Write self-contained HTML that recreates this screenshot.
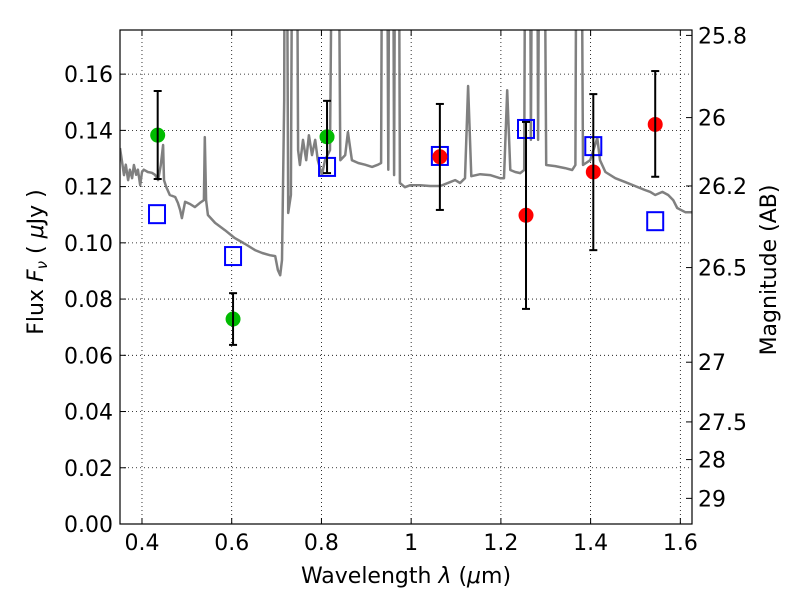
<!DOCTYPE html>
<html><head><meta charset="utf-8"><style>
html,body{margin:0;padding:0;background:#fff}
svg{display:block;font-family:"DejaVu Sans","Liberation Sans",sans-serif}
</style></head><body>
<svg id="chart" width="800" height="600" xmlns="http://www.w3.org/2000/svg"></svg>
<script>
const xTicks=[0.4,0.6,0.8,1.0,1.2,1.4,1.6];
const xTickLabels=["0.4","0.6","0.8","1","1.2","1.4","1.6"];
const yTicks=[0,0.02,0.04,0.06,0.08,0.10,0.12,0.14,0.16];
const yTickLabels=["0.00","0.02","0.04","0.06","0.08","0.10","0.12","0.14","0.16"];
const magTicks=[25.8,26,26.2,26.5,27,27.5,28,29];
const magTickLabels=["25.8","26","26.2","26.5","27","27.5","28","29"];
const specWave=[0.351,0.355,0.360,0.364,0.369,0.373,0.378,0.382,0.387,0.391,0.396,0.400,0.404,0.413,0.422,0.429,0.436,0.442,0.447,0.449,0.454,0.462,0.474,0.480,0.485,0.489,0.496,0.507,0.518,0.529,0.538,0.540,0.543,0.547,0.563,0.585,0.607,0.630,0.652,0.668,0.685,0.697,0.703,0.708,0.712,0.717,0.719,0.721,0.726,0.732,0.737,0.743,0.748,0.752,0.759,0.766,0.772,0.779,0.786,0.792,0.801,0.808,0.819,0.828,0.835,0.842,0.853,0.859,0.868,0.882,0.897,0.913,0.926,0.933,0.937,0.944,0.949,0.953,0.958,0.962,0.966,0.971,0.975,0.986,0.998,1.020,1.042,1.065,1.087,1.098,1.109,1.120,1.127,1.134,1.154,1.176,1.198,1.207,1.214,1.221,1.232,1.243,1.252,1.256,1.263,1.267,1.272,1.279,1.283,1.288,1.294,1.301,1.321,1.343,1.359,1.366,1.370,1.377,1.383,1.399,1.415,1.421,1.433,1.455,1.477,1.499,1.521,1.533,1.544,1.560,1.573,1.584,1.593,1.611,1.627];
const specFlux=[0.1337,0.1294,0.1241,0.1278,0.1223,0.1260,0.1230,0.1277,0.1242,0.1260,0.1205,0.1252,0.1260,0.1252,0.1249,0.1242,0.1223,0.1277,0.1348,0.1223,0.1199,0.1170,0.1163,0.1142,0.1117,0.1088,0.1146,0.1138,0.1127,0.1142,0.1152,0.1376,0.1152,0.1099,0.1071,0.1045,0.1017,0.0996,0.0974,0.0964,0.0956,0.0953,0.0903,0.0885,0.0939,0.1508,0.30,0.30,0.1106,0.1170,0.30,0.30,0.1330,0.1277,0.1366,0.1294,0.1383,0.1312,0.1366,0.1294,0.1241,0.1294,0.1330,0.30,0.30,0.1294,0.1312,0.1394,0.1294,0.1284,0.1278,0.1270,0.1278,0.1284,0.30,0.30,0.1260,0.30,0.30,0.1241,0.30,0.30,0.1213,0.1198,0.1205,0.1205,0.1202,0.1202,0.1216,0.1223,0.1213,0.1230,0.1558,0.1237,0.1244,0.1241,0.1230,0.1230,0.1543,0.1259,0.1252,0.1248,0.1259,0.30,0.30,0.1366,0.30,0.30,0.1366,0.30,0.30,0.1277,0.1273,0.1266,0.1259,0.1277,0.30,0.30,0.1277,0.1294,0.1373,0.1294,0.1252,0.1230,0.1216,0.1202,0.1188,0.1181,0.1170,0.1181,0.1170,0.1152,0.1124,0.1109,0.1109];
const greenWave=[0.435,0.603,0.8125];
const greenFlux=[0.1383,0.0729,0.1377];
const greenErrHi=[0.154,0.0821,0.1505];
const greenErrLo=[0.1227,0.0637,0.1248];
const redWave=[1.064,1.256,1.406,1.544];
const redFlux=[0.1306,0.1098,0.1252,0.1421];
const redErrHi=[0.1494,0.143,0.1529,0.1611];
const redErrLo=[0.1117,0.0765,0.0974,0.1235];
const modelWave=[0.4335,0.603,0.8125,1.064,1.256,1.406,1.544];
const modelFlux=[0.1102,0.0953,0.127,0.1309,0.1405,0.1344,0.1077];

const L=120,R=692,T=30,B=524;
const xMin=0.351,xMax=1.626,yMin=0,yMax=0.1757;
const X=w=>L+(w-xMin)/(xMax-xMin)*(R-L);
const Y=v=>B-(v-yMin)/(yMax-yMin)*(B-T);
const NS="http://www.w3.org/2000/svg";
const svg=document.getElementById('chart');
function mk(tag,attrs,parent){const e=document.createElementNS(NS,tag);for(const k in attrs)e.setAttribute(k,attrs[k]);(parent||svg).appendChild(e);return e;}

const defs=mk('defs',{});
const cp=mk('clipPath',{id:'clip'},defs);
mk('rect',{x:L,y:T,width:R-L,height:B-T},cp);

const grid=mk('g',{});


xTicks.forEach(t=>{mk('line',{x1:X(t),x2:X(t),y1:T,y2:B,stroke:'#000','stroke-width':0.8,'stroke-dasharray':'1,3'},grid);});
yTicks.forEach(t=>{mk('line',{x1:L,x2:R,y1:Y(t),y2:Y(t),stroke:'#000','stroke-width':0.8,'stroke-dasharray':'1,3'},grid);});

const plot=mk('g',{'clip-path':'url(#clip)'});
let d='';
specWave.forEach((w,i)=>{d+=(i?'L':'M')+X(w).toFixed(1)+','+Y(specFlux[i]).toFixed(1);});
const sp=mk('path',{d:d,fill:'none',stroke:'#808080','stroke-width':2.5,'stroke-linejoin':'round'},plot);



modelWave.forEach((w,i)=>{
  const r=mk('rect',{x:X(w)-8,y:Y(modelFlux[i])-9,width:16,height:18,fill:'none',stroke:'#0000ff','stroke-width':2},plot);
  
  
});
function pts(ws,fs,hi,lo,col,name){
  ws.forEach((w,i)=>{
    const g=mk('g',{},plot);
    
    
    const x=X(w);
    mk('circle',{cx:x,cy:Y(fs[i]),r:7.5,fill:col},g);
    mk('line',{x1:x,x2:x,y1:Y(hi[i]),y2:Y(lo[i]),stroke:'#000','stroke-width':2},g);
    mk('line',{x1:x-4,x2:x+4,y1:Y(hi[i]),y2:Y(hi[i]),stroke:'#000','stroke-width':2},g);
    mk('line',{x1:x-4,x2:x+4,y1:Y(lo[i]),y2:Y(lo[i]),stroke:'#000','stroke-width':2},g);
  });
}
pts(greenWave,greenFlux,greenErrHi,greenErrLo,'#00bb00','green-data-point');
pts(redWave,redFlux,redErrHi,redErrLo,'#ff0000','red-data-point');

mk('rect',{x:L,y:T,width:R-L,height:B-T,fill:'none',stroke:'#000','stroke-width':1.2});
xTicks.forEach((t,i)=>{
  mk('line',{x1:X(t),x2:X(t),y1:B,y2:B-6,stroke:'#000'});
  mk('line',{x1:X(t),x2:X(t),y1:T,y2:T+6,stroke:'#000'});
  const tx=mk('text',{x:X(t),y:B+26,'text-anchor':'middle','font-size':22});
  tx.textContent=xTickLabels[i];
  
  
});
yTicks.forEach((t,i)=>{
  mk('line',{x1:L,x2:L+6,y1:Y(t),y2:Y(t),stroke:'#000'});
  const tx=mk('text',{x:L-7,y:Y(t)+8,'text-anchor':'end','font-size':22});
  tx.textContent=yTickLabels[i];
  
  
});
magTicks.forEach((m,i)=>{
  const f=Math.pow(10,(23.9-m)/2.5);
  const y=Y(f);
  mk('line',{x1:R,x2:R-6,y1:y,y2:y,stroke:'#000'});
  const tx=mk('text',{x:R+6,y:y+8,'text-anchor':'start','font-size':22});
  tx.textContent=magTickLabels[i];
  
  
});
</script>
<div style="position:absolute;left:0;top:0;width:800px;height:600px;pointer-events:none">
<svg width="800" height="600" xmlns="http://www.w3.org/2000/svg" style="font-family:'DejaVu Sans','Liberation Sans',sans-serif">
<text x="406" y="583" text-anchor="middle" font-size="22">Wavelength  <tspan font-style="italic">λ</tspan> (<tspan font-style="italic">μ</tspan>m)</text>
<text transform="translate(43,262) rotate(-90)" text-anchor="middle" font-size="22">Flux  <tspan font-style="italic">F<tspan font-size="15" dy="4">ν</tspan></tspan><tspan dy="-4">  ( </tspan><tspan font-style="italic">μ</tspan>Jy )</text>
<text transform="translate(776,270) rotate(-90)" text-anchor="middle" font-size="22">Magnitude (AB)</text>
</svg></div>
</body></html>
